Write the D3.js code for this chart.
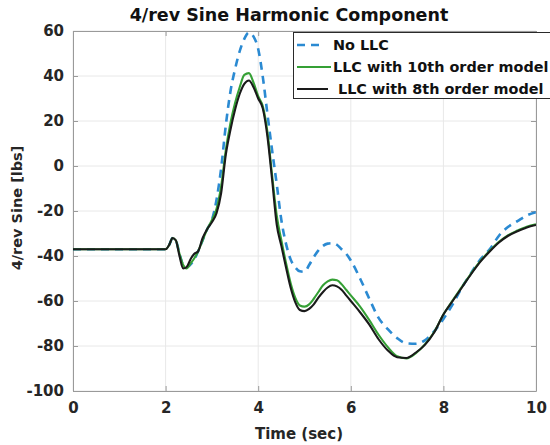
<!DOCTYPE html>
<html><head><meta charset="utf-8">
<script src="https://cdn.jsdelivr.net/npm/d3@7/dist/d3.min.js"></script>
<style>body{margin:0;background:#fff;}svg{display:block;font-family:"DejaVu Sans",sans-serif;}</style>
</head><body>
<svg id="c" width="550" height="445"></svg>
<script>
const title = "4/rev Sine Harmonic Component";
const xLabel = "Time (sec)";
const yLabel = "4/rev Sine [lbs]";
const xTicks = [0, 2, 4, 6, 8, 10];
const yTicks = [-100, -80, -60, -40, -20, 0, 20, 40, 60];
const seriesNames = ["No LLC", "LLC with 10th order model", " LLC with 8th order model"];

const time = [0, 2.0, 2.08, 2.15, 2.22, 2.3, 2.38, 2.45, 2.55, 2.62, 2.7, 2.8, 2.9, 3.0, 3.1, 3.2, 3.3, 3.4, 3.5, 3.6, 3.7, 3.8, 3.9, 4.0, 4.1, 4.2, 4.3, 4.4, 4.5, 4.6, 4.7, 4.8, 4.9, 5.0, 5.1, 5.2, 5.3, 5.4, 5.5, 5.6, 5.7, 5.8, 5.9, 6.0, 6.2, 6.4, 6.6, 6.8, 7.0, 7.2, 7.4, 7.6, 7.8, 8.0, 8.2, 8.4, 8.6, 8.8, 9.0, 9.2, 9.4, 9.6, 9.8, 10];

const noLLC = [-37, -37, -35, -32, -33, -39, -44, -45, -43.5, -41.5, -38, -33, -28, -24, -15, -1, 18, 33, 43, 51, 56.5, 59.3, 57.5, 52, 39.5, 23, 7, -8, -24, -34.5, -41.5, -45, -46.8, -47, -44, -40.5, -37.5, -35.5, -34.5, -34.3, -35, -37, -39, -42, -50, -59, -67.5, -72.5, -76.5, -78.8, -79, -77.5, -73.5, -68, -61.5, -54, -47.5, -41.5, -37, -31, -27, -24.5, -22, -20.5];

const llc10 = [-37, -37, -35, -32, -33, -39, -44, -45.5, -43, -41, -38, -33, -28, -24, -19, -9, 7, 19, 28, 35, 40.5, 41.3, 37, 31, 26.5, 15, -4, -22, -33, -43, -52, -58.5, -62, -62.5, -61.5, -59, -56, -53, -51.3, -50.5, -50.8, -52.5, -55, -57.5, -62.5, -68.5, -75, -80.5, -84.5, -85.5, -83.3, -79.3, -73.8, -66, -59.7, -53.7, -47.7, -42.2, -37.7, -33.7, -30.7, -28.7, -27, -25.9];

const llc8 = [-37, -37, -35, -32, -33, -40, -45.5, -45, -41, -39, -38, -32, -28, -25, -21, -12, 5, 16, 25, 32, 36.5, 38, 35, 30, 25.5, 13, -6, -26, -35.5, -45, -54, -60.5, -64, -64.5, -63.5, -61.5, -58.5, -56, -54, -53, -53.5, -55, -57.5, -60, -65, -70.5, -77, -82, -85, -85.3, -83, -79.5, -74, -66, -60, -54, -48, -42.5, -38, -34, -31, -29, -27.3, -26.2];

const colors = ["#2b8ad2", "#35a035", "#1a1a1a"];

const svg = d3.select("#c");
const L = 73, R = 536, T = 31, B = 391;
const x = d3.scaleLinear().domain([0, 10]).range([L, R]);
const y = d3.scaleLinear().domain([-100, 60]).range([B, T]);
const FONT = "'DejaVu Sans', sans-serif";

// grid
const g = svg.append("g");
g.selectAll(".gx").data(xTicks).enter().append("line")
  .attr("x1", d => x(d)).attr("x2", d => x(d)).attr("y1", T).attr("y2", B)
  .attr("stroke", "#e8e8e8").attr("stroke-width", 1);
g.selectAll(".gy").data(yTicks).enter().append("line")
  .attr("y1", d => y(d)).attr("y2", d => y(d)).attr("x1", L).attr("x2", R)
  .attr("stroke", "#e8e8e8").attr("stroke-width", 1);

// axes with inward ticks
const fmt = d => String(d);
const axB = d3.axisBottom(x).tickValues(xTicks).tickFormat(fmt).tickSizeInner(-5).tickSizeOuter(0).tickPadding(11);
const axL = d3.axisLeft(y).tickValues(yTicks).tickFormat(fmt).tickSizeInner(-5).tickSizeOuter(0).tickPadding(9);
const axT = d3.axisTop(x).tickValues(xTicks).tickSizeInner(-5).tickSizeOuter(0).tickFormat("");
const axR = d3.axisRight(y).tickValues(yTicks).tickSizeInner(-5).tickSizeOuter(0).tickFormat("");
function style(sel) {
  sel.selectAll("path").attr("stroke", "#9a9a9a");
  sel.selectAll("line").attr("stroke", "#9a9a9a");
  sel.selectAll("text").attr("fill", "#262626").style("font-weight", "bold").style("font-size", "15px")
    .style("font-family", FONT);
}
svg.append("g").attr("transform", `translate(0,${B})`).call(axB).call(style);
svg.append("g").attr("transform", `translate(${L},0)`).call(axL).call(style);
svg.append("g").attr("transform", `translate(0,${T})`).call(axT).call(style);
svg.append("g").attr("transform", `translate(${R},0)`).call(axR).call(style);

// lines
const allSeries = [noLLC, llc10, llc8];
const line = d3.line().x(d => x(d[0])).y(d => y(d[1])).curve(d3.curveMonotoneX);
svg.append("clipPath").attr("id", "pc").append("rect")
  .attr("x", L).attr("y", T - 2).attr("width", R - L).attr("height", B - T + 2);
allSeries.forEach((s, i) => {
  svg.append("path").datum(time.map((t, k) => [t, s[k]]))
    .attr("d", line).attr("fill", "none").attr("stroke", colors[i])
    .attr("stroke-width", i === 0 ? 2.6 : 2.1)
    .attr("stroke-dasharray", i === 0 ? "8,6" : null)
    .attr("clip-path", "url(#pc)");
});

// title & labels
svg.append("text").attr("x", 289).attr("y", 21).attr("text-anchor", "middle")
  .style("font-family", FONT).style("font-weight", "bold").style("font-size", "17.5px").attr("fill", "#111").text(title);
svg.append("text").attr("x", 299).attr("y", 439).attr("text-anchor", "middle")
  .style("font-family", FONT).style("font-weight", "bold").style("font-size", "15px").attr("fill", "#262626").text(xLabel);
svg.append("text").attr("transform", `translate(22,208) rotate(-90)`).attr("text-anchor", "middle")
  .style("font-family", FONT).style("font-weight", "bold").style("font-size", "14.5px").attr("fill", "#262626").text(yLabel);

// legend
const lg = svg.append("g");
lg.append("rect").attr("x", 293.5).attr("y", 32.5).attr("width", 262).attr("height", 66)
  .attr("fill", "#fff").attr("stroke", "#2a2a2a").attr("stroke-width", 1);
const rowsY = [45, 67, 89];
const sampleEnd = [323, 331, 328];
seriesNames.forEach((n, i) => {
  lg.append("line").attr("x1", 297).attr("x2", sampleEnd[i]).attr("y1", rowsY[i]).attr("y2", rowsY[i])
    .attr("stroke", colors[i]).attr("stroke-width", i === 0 ? 2.6 : 2)
    .attr("stroke-dasharray", i === 0 ? "8,6" : null);
  lg.append("text").attr("x", 333).attr("y", rowsY[i]).attr("dy", "0.36em")
    .style("font-family", FONT).style("font-weight", "bold").style("font-size", "14.4px")
    .style("white-space", "pre").attr("fill", "#111").text(n);
});
</script>
</body></html>
